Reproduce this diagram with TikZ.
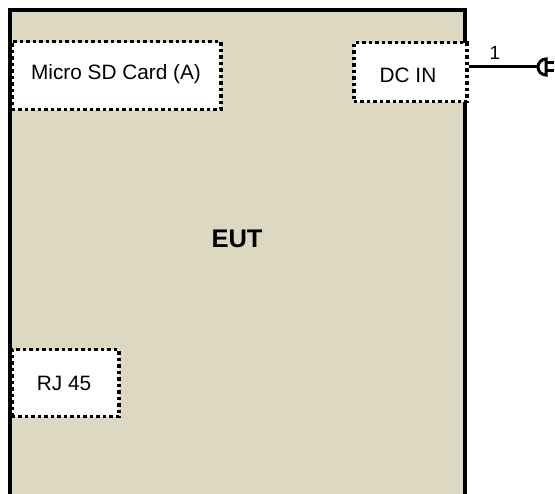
\documentclass[tikz,border=0pt]{standalone}
\usepackage{fontspec}
\setmainfont{Liberation Sans}
\definecolor{euttan}{HTML}{DDD8C2}
\begin{document}
\begin{tikzpicture}[x=1pt,y=-1pt,
  port/.style={draw=black, fill=white, line width=3.5pt, dash pattern=on 3.5pt off 3pt, inner sep=0pt},
  lbl/.style={font=\fontsize{20.8}{24}\selectfont},
  wire/.style={line width=3pt},
  plugline/.style={line width=3pt}]
\useasboundingbox (0,0) rectangle (555,494);
\begin{scope}
\clip (0,0) rectangle (555,494);
\draw[fill=euttan, line width=4pt] (10,10) rectangle (465,520);
\end{scope}
\node[port, minimum width=209pt, minimum height=68pt, anchor=north west] (sd) at (10,40) {};
\node[lbl] (sdt) at (116,74) {Micro SD Card (A)};
\node[port, minimum width=113pt, minimum height=59pt, anchor=north west] (dc) at (352,41) {};
\node[lbl] (dct) at (408,75) {DC IN};
\node[port, minimum width=107pt, minimum height=67pt, anchor=north west] (rj) at (10,348) {};
\node[lbl] (rjt) at (64,383) {RJ 45};
\node[font=\fontsize{25.5}{30}\selectfont\bfseries] (eut) at (237,239) {EUT};
\coordinate (plug) at (537,67);
\draw[wire] (dc.east |- plug) -- (plug);
\node[font=\fontsize{19}{22}\selectfont] (one) at (495,53) {1};
\draw[plugline] (546,59) arc (270:90:8) -- cycle;
\draw[plugline] (546,63) -- (554,63) (546,71) -- (554,71);
\end{tikzpicture}
\end{document}
